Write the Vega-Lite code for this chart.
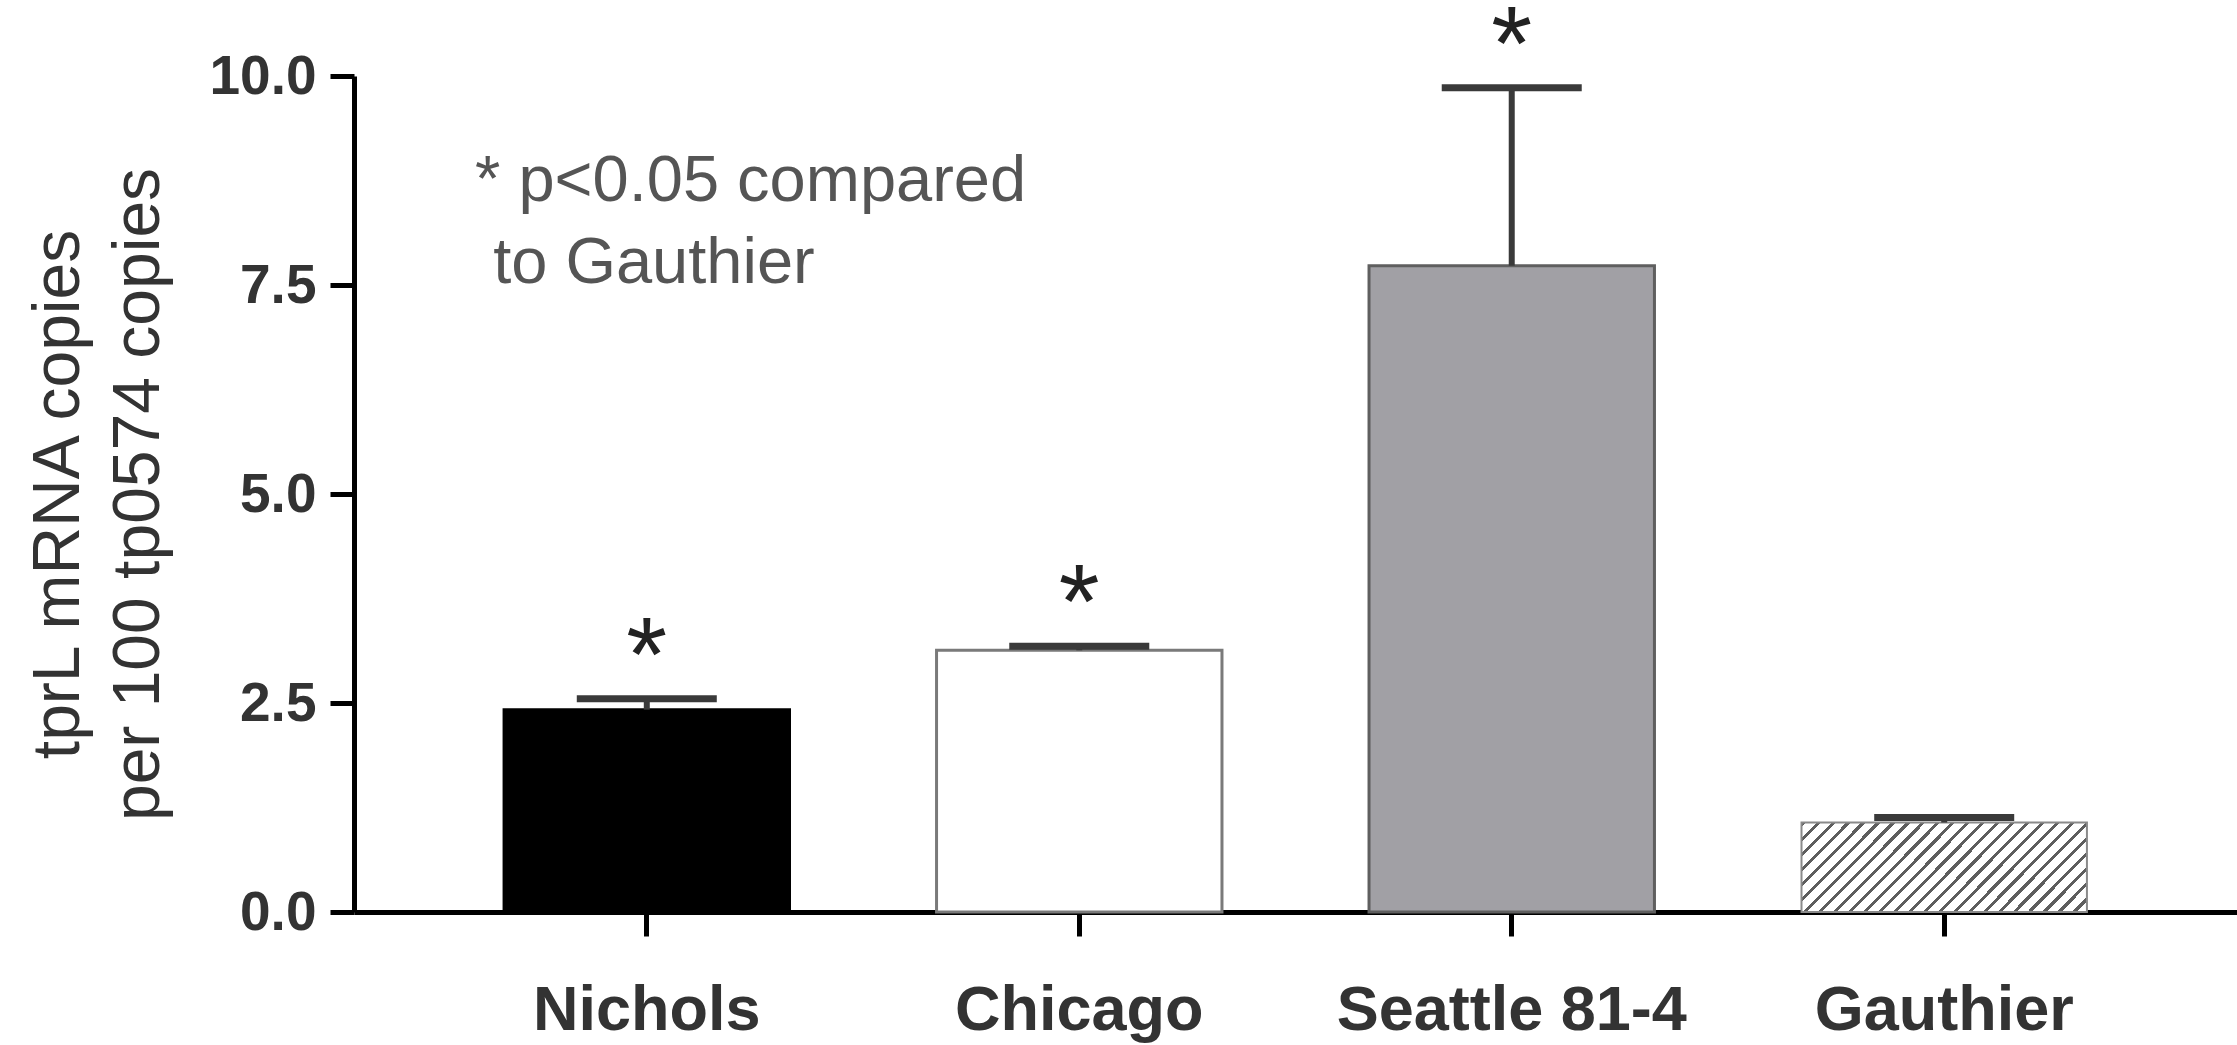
{
  "$schema": "https://vega.github.io/schema/vega-lite/v6.json",
  "width": 1883,
  "height": 836,
  "autosize": {"type": "none"},
  "padding": {"left": 354, "top": 76, "right": 0, "bottom": 133},
  "background": "white",
  "config": {
    "view": {"stroke": null},
    "axis": {
      "grid": false,
      "domainColor": "#000000",
      "domainWidth": 5,
      "tickColor": "#000000",
      "tickWidth": 5,
      "tickSize": 24,
      "labelFont": "Liberation Sans",
      "labelFontWeight": "bold",
      "labelColor": "#333333",
      "labelLimit": 1000,
      "titleFont": "Liberation Sans",
      "titleFontWeight": "normal",
      "titleColor": "#333333"
    },
    "axisX": {"labelFontSize": 63, "labelPadding": 43, "labelAngle": 0},
    "axisY": {"labelFontSize": 55, "labelPadding": 14, "titleFontSize": 66, "titleLineHeight": 80, "titlePadding": 36}
  },
  "data": {
    "values": [
      {"strain": "Nichols", "mean": 2.42, "upper": 2.55, "sig": "*"},
      {"strain": "Chicago", "mean": 3.13, "upper": 3.18, "sig": "*"},
      {"strain": "Seattle 81-4", "mean": 7.73, "upper": 9.86, "sig": "*"},
      {"strain": "Gauthier", "mean": 1.07, "upper": 1.13, "sig": ""}
    ]
  },
  "encoding": {
    "x": {
      "field": "strain",
      "type": "nominal",
      "title": null,
      "scale": {"domain": ["Nichols", "Chicago", "Seattle 81-4", "Gauthier"], "paddingInner": 0.34, "paddingOuter": 0.347}
    }
  },
  "layer": [
    {
      "transform": [{"filter": "datum.strain !== 'Gauthier'"}],
      "mark": {"type": "bar", "strokeWidth": 3},
      "encoding": {
        "y": {"field": "mean", "type": "quantitative", "scale": {"domain": [0, 10], "nice": false}, "axis": {"values": [0, 2.5, 5, 7.5, 10], "format": ".1f"}, "title": ["tprL mRNA copies", "per 100 tp0574 copies"]},
        "fill": {"field": "strain", "type": "nominal", "scale": {"domain": ["Nichols", "Chicago", "Seattle 81-4"], "range": ["#000000", "#ffffff", "#a1a0a5"]}, "legend": null},
        "stroke": {"field": "strain", "type": "nominal", "scale": {"domain": ["Nichols", "Chicago", "Seattle 81-4"], "range": ["#000000", "#7a7a7a", "#5f5f5f"]}, "legend": null}
      }
    },
    {
      "transform": [{"filter": "datum.strain === 'Gauthier'"}],
      "mark": {
        "type": "bar",
        "stroke": "#8a8a8a",
        "strokeWidth": 2,
        "fill": {
          "gradient": "linear",
          "x1": 0, "y1": 0, "x2": 1.1955, "y2": 0.3727,
          "stops": [
            {"offset": 0, "color": "#5e5e5e"}, {"offset": 0.011, "color": "#5e5e5e"}, {"offset": 0.011, "color": "#ffffff"}, {"offset": 0.04, "color": "#ffffff"},
            {"offset": 0.04, "color": "#5e5e5e"}, {"offset": 0.051, "color": "#5e5e5e"}, {"offset": 0.051, "color": "#ffffff"}, {"offset": 0.08, "color": "#ffffff"},
            {"offset": 0.08, "color": "#5e5e5e"}, {"offset": 0.091, "color": "#5e5e5e"}, {"offset": 0.091, "color": "#ffffff"}, {"offset": 0.12, "color": "#ffffff"},
            {"offset": 0.12, "color": "#5e5e5e"}, {"offset": 0.131, "color": "#5e5e5e"}, {"offset": 0.131, "color": "#ffffff"}, {"offset": 0.16, "color": "#ffffff"},
            {"offset": 0.16, "color": "#5e5e5e"}, {"offset": 0.171, "color": "#5e5e5e"}, {"offset": 0.171, "color": "#ffffff"}, {"offset": 0.2, "color": "#ffffff"},
            {"offset": 0.2, "color": "#5e5e5e"}, {"offset": 0.211, "color": "#5e5e5e"}, {"offset": 0.211, "color": "#ffffff"}, {"offset": 0.24, "color": "#ffffff"},
            {"offset": 0.24, "color": "#5e5e5e"}, {"offset": 0.251, "color": "#5e5e5e"}, {"offset": 0.251, "color": "#ffffff"}, {"offset": 0.28, "color": "#ffffff"},
            {"offset": 0.28, "color": "#5e5e5e"}, {"offset": 0.291, "color": "#5e5e5e"}, {"offset": 0.291, "color": "#ffffff"}, {"offset": 0.32, "color": "#ffffff"},
            {"offset": 0.32, "color": "#5e5e5e"}, {"offset": 0.331, "color": "#5e5e5e"}, {"offset": 0.331, "color": "#ffffff"}, {"offset": 0.36, "color": "#ffffff"},
            {"offset": 0.36, "color": "#5e5e5e"}, {"offset": 0.371, "color": "#5e5e5e"}, {"offset": 0.371, "color": "#ffffff"}, {"offset": 0.4, "color": "#ffffff"},
            {"offset": 0.4, "color": "#5e5e5e"}, {"offset": 0.411, "color": "#5e5e5e"}, {"offset": 0.411, "color": "#ffffff"}, {"offset": 0.44, "color": "#ffffff"},
            {"offset": 0.44, "color": "#5e5e5e"}, {"offset": 0.451, "color": "#5e5e5e"}, {"offset": 0.451, "color": "#ffffff"}, {"offset": 0.48, "color": "#ffffff"},
            {"offset": 0.48, "color": "#5e5e5e"}, {"offset": 0.491, "color": "#5e5e5e"}, {"offset": 0.491, "color": "#ffffff"}, {"offset": 0.52, "color": "#ffffff"},
            {"offset": 0.52, "color": "#5e5e5e"}, {"offset": 0.531, "color": "#5e5e5e"}, {"offset": 0.531, "color": "#ffffff"}, {"offset": 0.56, "color": "#ffffff"},
            {"offset": 0.56, "color": "#5e5e5e"}, {"offset": 0.571, "color": "#5e5e5e"}, {"offset": 0.571, "color": "#ffffff"}, {"offset": 0.6, "color": "#ffffff"},
            {"offset": 0.6, "color": "#5e5e5e"}, {"offset": 0.611, "color": "#5e5e5e"}, {"offset": 0.611, "color": "#ffffff"}, {"offset": 0.64, "color": "#ffffff"},
            {"offset": 0.64, "color": "#5e5e5e"}, {"offset": 0.651, "color": "#5e5e5e"}, {"offset": 0.651, "color": "#ffffff"}, {"offset": 0.68, "color": "#ffffff"},
            {"offset": 0.68, "color": "#5e5e5e"}, {"offset": 0.691, "color": "#5e5e5e"}, {"offset": 0.691, "color": "#ffffff"}, {"offset": 0.72, "color": "#ffffff"},
            {"offset": 0.72, "color": "#5e5e5e"}, {"offset": 0.731, "color": "#5e5e5e"}, {"offset": 0.731, "color": "#ffffff"}, {"offset": 0.76, "color": "#ffffff"},
            {"offset": 0.76, "color": "#5e5e5e"}, {"offset": 0.771, "color": "#5e5e5e"}, {"offset": 0.771, "color": "#ffffff"}, {"offset": 0.8, "color": "#ffffff"},
            {"offset": 0.8, "color": "#5e5e5e"}, {"offset": 0.811, "color": "#5e5e5e"}, {"offset": 0.811, "color": "#ffffff"}, {"offset": 0.84, "color": "#ffffff"},
            {"offset": 0.84, "color": "#5e5e5e"}, {"offset": 0.851, "color": "#5e5e5e"}, {"offset": 0.851, "color": "#ffffff"}, {"offset": 0.88, "color": "#ffffff"},
            {"offset": 0.88, "color": "#5e5e5e"}, {"offset": 0.891, "color": "#5e5e5e"}, {"offset": 0.891, "color": "#ffffff"}, {"offset": 0.92, "color": "#ffffff"},
            {"offset": 0.92, "color": "#5e5e5e"}, {"offset": 0.931, "color": "#5e5e5e"}, {"offset": 0.931, "color": "#ffffff"}, {"offset": 0.96, "color": "#ffffff"},
            {"offset": 0.96, "color": "#5e5e5e"}, {"offset": 0.971, "color": "#5e5e5e"}, {"offset": 0.971, "color": "#ffffff"}, {"offset": 1, "color": "#ffffff"}
          ]
        }
      },
      "encoding": {
        "y": {"field": "mean", "type": "quantitative", "scale": {"domain": [0, 10], "nice": false}, "axis": {"values": [0, 2.5, 5, 7.5, 10], "format": ".1f"}, "title": ["tprL mRNA copies", "per 100 tp0574 copies"]}
      }
    },
    {
      "mark": {"type": "rule", "color": "#3a3a3a", "strokeWidth": 6},
      "encoding": {
        "y": {"field": "mean", "type": "quantitative", "scale": {"domain": [0, 10], "nice": false}, "axis": {"values": [0, 2.5, 5, 7.5, 10], "format": ".1f"}, "title": ["tprL mRNA copies", "per 100 tp0574 copies"]},
        "y2": {"field": "upper"}
      }
    },
    {
      "mark": {"type": "tick", "color": "#3a3a3a", "size": 140, "thickness": 7, "opacity": 1},
      "encoding": {
        "y": {"field": "upper", "type": "quantitative", "scale": {"domain": [0, 10], "nice": false}, "axis": {"values": [0, 2.5, 5, 7.5, 10], "format": ".1f"}, "title": ["tprL mRNA copies", "per 100 tp0574 copies"]}
      }
    },
    {
      "mark": {"type": "text", "font": "Liberation Sans", "fontSize": 105, "color": "#222222", "baseline": "alphabetic", "align": "center", "dy": -8},
      "encoding": {
        "y": {"field": "upper", "type": "quantitative", "scale": {"domain": [0, 10], "nice": false}, "axis": {"values": [0, 2.5, 5, 7.5, 10], "format": ".1f"}, "title": ["tprL mRNA copies", "per 100 tp0574 copies"]},
        "text": {"field": "sig", "type": "nominal"}
      }
    },
    {
      "data": {"values": [{"note": "* p<0.05 compared\n\u200b\u00a0to Gauthier"}]},
      "mark": {"type": "text", "font": "Liberation Sans", "fontSize": 65, "color": "#555555", "align": "left", "baseline": "alphabetic", "lineBreak": "\n", "lineHeight": 82, "dx": -29},
      "encoding": {
        "x": {"datum": "Nichols", "bandPosition": 0},
        "y": {"datum": 8.5, "type": "quantitative", "scale": {"domain": [0, 10], "nice": false}},
        "text": {"field": "note", "type": "nominal"}
      }
    }
  ]
}
